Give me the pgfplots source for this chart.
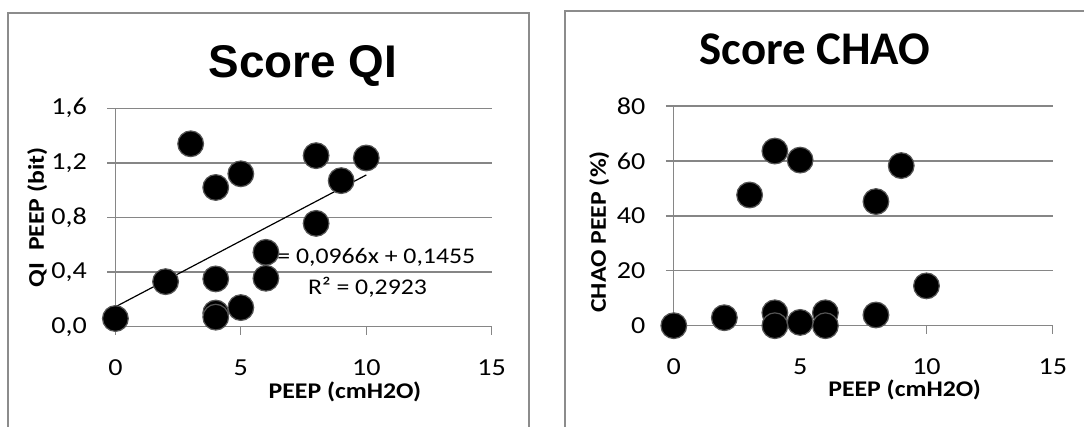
\documentclass[border=0pt]{standalone}
\usepackage{fontspec}
\setmainfont{Carlito}[FakeStretch=1.15]
\newfontfamily\titlefont{Carlito}
\newfontfamily\arialfont{Liberation Sans}
\usepackage{pgfplots}
\pgfplotsset{compat=1.18}
\definecolor{gridgray}{RGB}{134,134,134}
\definecolor{bordergray}{RGB}{140,140,140}
\definecolor{mkedge}{RGB}{85,85,85}

\pgfplotsset{
  panel/.style={
    scale only axis,
    anchor=origin,
    clip=false,
    xmin=0, xmax=15,
    ymin=0,
    axis x line*=bottom,
    axis y line*=left,
    axis line style={gridgray, line width=1.3bp},
    ymajorgrids,
    grid style={gridgray, line width=1.3bp},
    tick align=outside,
    major tick length=8bp,
    tick style={gridgray, line width=1.3bp},
    xtick={0,5,10,15},
    xticklabels={0,5,10,15},
    ticklabel style={font=\fontsize{24.5}{28}\selectfont, text=black},
    xticklabel style={anchor=center, yshift=-33bp},
    yticklabel style={anchor=east, xshift=-17bp},
    label style={font=\bfseries\fontsize{22.5}{26}\selectfont},
  },
  dots/.style={only marks, mark=*, mark size=12.9pt,
    mark options={fill=black, draw=mkedge, line width=1.2bp}},
}

\begin{document}
\begin{tikzpicture}[x=1bp,y=1bp]
\useasboundingbox (0,0) rectangle (1084,426);
\draw[bordergray, line width=2bp] (7.6,-5) -- (7.6,413) -- (529,413) -- (529,-5);
\draw[bordergray, line width=2bp] (565,-5) -- (565,415) -- (1090,415);

% ---------- Left: Score QI ----------
\begin{axis}[panel,
  at={(115.4bp,99.3bp)},
  width=376.3bp, height=218.4bp,
  ymax=1.6,
  ytick={0,0.4,0.8,1.2,1.6},
  yticklabels={{0,0},{0,4},{0,8},{1,2},{1,6}},
  xlabel={PEEP (cmH2O)},
  xlabel style={at={(axis description cs:0.610,-0.300)}, anchor=center},
  ylabel={QI\ \ PEEP (bit)},
  ylabel style={at={(axis description cs:-0.208,0.501)}, anchor=center, rotate=0},
  title={Score QI},
  title style={at={(axis description cs:0.4985,1.164)}, anchor=center,
    font=\arialfont\bfseries\fontsize{46}{50}\selectfont},
]
\addplot[black, line width=1.2bp] coordinates {(0,0.1455) (10,1.1115)};
\node[align=center, font=\fontsize{22.5}{31}\selectfont, inner sep=0pt]
  at (axis cs:10.05,0.397) {y = 0,0966x + 0,1455\\R² = 0,2923};
\addplot[dots] coordinates {
  (0,0.06) (2,0.33) (3,1.34) (4,1.02) (4,0.35) (4,0.10) (4,0.07)
  (5,1.12) (5,0.14) (6,0.545) (6,0.355) (8,1.253) (8,0.757)
  (9,1.07) (10,1.236)
};
\end{axis}

% ---------- Right: Score CHAO ----------
\begin{axis}[panel,
  at={(673.8bp,100.3bp)},
  width=379bp, height=219.7bp,
  ymax=80,
  ytick={0,20,40,60,80},
  yticklabels={0,20,40,60,80},
  xlabel={PEEP (cmH2O)},
  xlabel style={at={(axis description cs:0.609,-0.293)}, anchor=center},
  ylabel={CHAO PEEP (\%)},
  ylabel style={at={(axis description cs:-0.197,0.4265)}, anchor=center, rotate=0},
  title={Score CHAO},
  title style={at={(axis description cs:0.3726,1.230)}, anchor=center,
    font=\titlefont\bfseries\fontsize{47}{50}\selectfont},
]
\addplot[dots] coordinates {
  (0,0) (2,2.9) (3,47.6) (4,63.6) (4,4.7) (4,0) (5,60.3) (5,1.2)
  (6,4.7) (6,0) (8,45.2) (8,3.9) (9,58.3) (10,14.5)
};
\end{axis}
\end{tikzpicture}
\end{document}
